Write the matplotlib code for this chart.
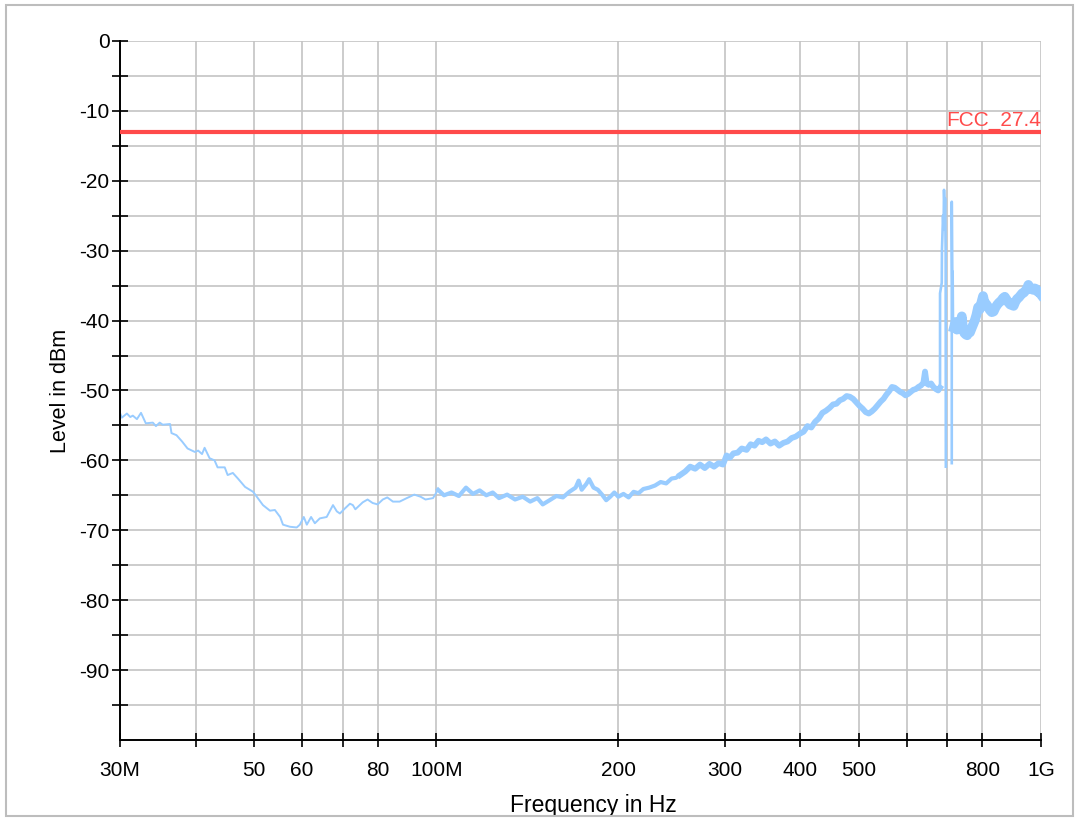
import numpy as np
import matplotlib
matplotlib.use("Agg")
import matplotlib.pyplot as plt
from matplotlib.patches import Rectangle

plt.rcParams['font.family'] = ['Liberation Sans', 'DejaVu Sans']
plt.rcParams['axes.unicode_minus'] = False

# trace, MHz / dBm, split where the noise band gets wider
freq_low = [30.0, 30.2, 30.8, 31.2, 31.5, 32.0, 32.5, 33.1, 34.0, 34.4, 34.9, 35.3,
            36.3, 36.5, 37.2, 38.0, 38.8, 39.9, 40.4, 41.0, 41.4, 42.2, 43.0, 43.5,
            44.7, 45.2, 46.1, 47.0, 48.3, 49.8, 50.7, 51.7, 53.1, 54.1, 55.2, 55.8,
            57.3, 58.8, 59.5, 60.4, 61.1, 62.1, 63.0, 64.2, 65.9, 67.5, 68.5, 69.3,
            70.6, 72.0, 72.8, 73.5, 75.6, 77.0, 78.5, 80.0, 81.6, 83.0, 84.8, 87.0,
            89.4, 92.0, 94.2, 96.0, 98.8, 100.7]
level_low = [-53.2, -53.9, -53.3, -53.8, -53.6, -54.1, -53.2, -54.7, -54.6, -55.1, -54.6, -54.9,
             -54.8, -56.1, -56.4, -57.3, -58.3, -58.8, -58.6, -59.1, -58.2, -59.7, -60.0, -61.0,
             -61.0, -62.1, -61.8, -62.6, -63.8, -64.5, -65.4, -66.4, -67.2, -67.1, -68.1, -69.2,
             -69.5, -69.6, -69.2, -68.1, -69.2, -68.1, -69.0, -68.3, -68.1, -66.4, -67.3, -67.6,
             -66.9, -66.2, -66.4, -67.0, -66.0, -65.6, -66.1, -66.3, -65.6, -65.3, -65.9, -65.9,
             -65.4, -64.9, -65.2, -65.6, -65.4, -64.2]

freq_mid = [100.7, 103, 106, 109, 112, 115, 118, 121, 124, 127, 131, 135, 139, 143, 147,
            150, 154, 158, 162, 166, 170, 172, 174, 177, 179, 182, 185, 188, 191, 194,
            197, 200, 204, 208, 212, 216, 220, 225, 230, 235, 240, 245, 249, 253.1]
level_mid = [-64.2, -65.0, -64.6, -65.1, -63.9, -64.8, -64.3, -65.0, -64.6, -65.4, -64.9,
             -65.6, -65.2, -65.9, -65.4, -66.3, -65.7, -65.1, -65.3, -64.5, -63.9, -62.9,
             -64.2, -63.4, -62.7, -63.9, -64.2, -64.9, -65.7, -65.2, -64.6, -65.2, -64.8,
             -65.3, -64.5, -64.7, -64.1, -63.9, -63.6, -63.1, -63.3, -62.6, -62.5, -62.1]

freq_high = [253.1, 258, 263, 268, 273, 278, 283, 288, 293, 298, 302, 306, 310, 315, 320,
             326, 331, 336, 341, 346, 351, 357, 363, 369, 375, 381, 387, 393, 399, 405,
             411, 417, 423, 429, 435, 441, 447, 453, 459, 465, 471, 477, 483, 489, 495,
             501, 507, 513, 519, 525, 531, 537, 543, 549, 555, 561, 567, 573, 579, 585,
             591, 597, 603, 609, 615, 621, 627, 633, 639, 643, 647, 652, 658, 664, 670,
             676, 680.8]
level_high = [-62.1, -61.6, -60.9, -61.2, -60.6, -61.1, -60.5, -60.9, -60.4, -60.6, -59.3,
              -59.6, -59.0, -58.9, -58.3, -58.5, -57.7, -57.9, -57.2, -57.4, -57.0, -57.6,
              -57.3, -57.9, -57.5, -57.3, -56.8, -56.6, -56.2, -55.9, -55.1, -55.3, -54.5,
              -54.0, -53.2, -52.9, -52.5, -52.0, -51.9, -51.4, -51.2, -50.8, -50.9, -51.2,
              -51.7, -52.2, -52.6, -53.1, -53.3, -53.0, -52.6, -52.1, -51.6, -51.2, -50.6,
              -50.1, -49.5, -49.6, -49.9, -50.2, -50.4, -50.7, -50.5, -50.2, -49.9, -49.8,
              -49.5, -49.3, -48.9, -47.3, -49.0, -49.2, -49.0, -49.5, -49.8, -50.0, -49.6]

freq_spike = [680.8, 680.8, 685.3, 685.8, 688.6, 690.0, 691.2, 693.0, 694.0, 695.5, 696.0,
              np.nan, 711.9, 711.9, 712.7, 713.5, 714.3, 715.2, 718.0]
level_spike = [-49.5, -36.1, -34.6, -29.9, -25.0, -27.0, -21.3, -24.5, -22.5, -29.9, -60.9,
               np.nan, -60.4, -23.0, -30.0, -36.0, -33.0, -40.0, -41.0]

freq_top = [718, 722, 726, 730, 735, 739.6, 743, 747, 751, 755, 759, 763, 767, 772, 777,
            782, 787, 792, 797, 802, 806, 811, 817, 823, 829, 835, 841, 847, 853, 859,
            865, 871, 877, 883, 889, 895, 901, 907, 913, 919, 925, 931, 937, 943, 949,
            953, 958, 964, 970, 976, 982, 988, 994, 1000]
level_top = [-41.0, -40.2, -41.3, -40.6, -41.1, -39.4, -41.2, -41.8, -42.0, -42.1, -41.6,
             -41.7, -41.2, -40.6, -40.0, -39.2, -38.1, -38.4, -37.4, -36.5, -37.4, -37.6,
             -38.0, -38.5, -38.8, -38.7, -38.1, -37.7, -37.4, -37.2, -36.8, -36.6, -37.0,
             -37.4, -37.7, -37.8, -37.9, -37.3, -36.9, -36.7, -36.4, -36.1, -36.0, -35.7,
             -35.3, -34.9, -35.3, -35.5, -35.6, -35.4, -35.5, -35.9, -36.0, -36.3]

limit_level = -13.0
limit_name = "FCC_27.4"

xticks = [30, 40, 50, 60, 70, 80, 100, 200, 300, 400, 500, 600, 700, 800, 1000]
xticklabels = ["30M", "", "50", "60", "", "80", "100M", "200", "300", "400", "500", "", "", "800", "1G"]
yticks = [0, -10, -20, -30, -40, -50, -60, -70, -80, -90]
yminor = [-5, -15, -25, -35, -45, -55, -65, -75, -85, -95]

trace_col = "#99ccff"
red = "#ff4a4a"

fig = plt.figure(figsize=(10.78, 8.19), dpi=100)
ax = fig.add_axes([0.1113, 0.0965, 0.8544, 0.8535])

ax.plot(freq_low, level_low, color=trace_col, lw=1.4)
ax.plot(freq_mid, level_mid, color=trace_col, lw=3.0)
ax.plot(freq_high, level_high, color=trace_col, lw=4.2)
ax.plot(freq_spike, level_spike, color=trace_col, lw=1.9)
ax.plot(freq_top, level_top, color=trace_col, lw=7.0)

ax.axhline(limit_level, color=red, lw=3, zorder=3)
ax.text(1000, limit_level + 0.3, limit_name, color=red, fontsize=15,
        ha="right", va="bottom")

ax.set_xscale("log")
ax.set_xlim(30, 1000)
ax.set_ylim(-100, 0)
ax.set_xticks(xticks)
ax.set_xticklabels(xticklabels)
ax.xaxis.set_minor_locator(matplotlib.ticker.NullLocator())
ax.set_yticks(yticks)
ax.set_yticks(yminor, minor=True)

ax.grid(True, which="both", color="#c4c4c4", lw=1.2)
ax.set_axisbelow(True)

for s in ["top", "right"]:
    ax.spines[s].set_visible(False)
for s in ["left", "bottom"]:
    ax.spines[s].set_linewidth(1.4)

ax.tick_params(axis="y", which="both", direction="inout", length=11, width=1.2,
               labelsize=15, pad=2)
ax.tick_params(axis="x", which="major", direction="inout", length=10, width=1.2,
               labelsize=15, pad=10)

ax.set_xlabel("Frequency in Hz", fontsize=16.5)
ax.xaxis.set_label_coords(0.514, -0.078)
ax.set_ylabel("Level in dBm", fontsize=15.5, labelpad=6)

fig.patches.append(Rectangle((6 / 1078, 3 / 819), 1067 / 1078, 811 / 819,
                             transform=fig.transFigure, fill=False,
                             ec="#bdbdbd", lw=1.5))

fig.savefig("out.png", dpi=100)
